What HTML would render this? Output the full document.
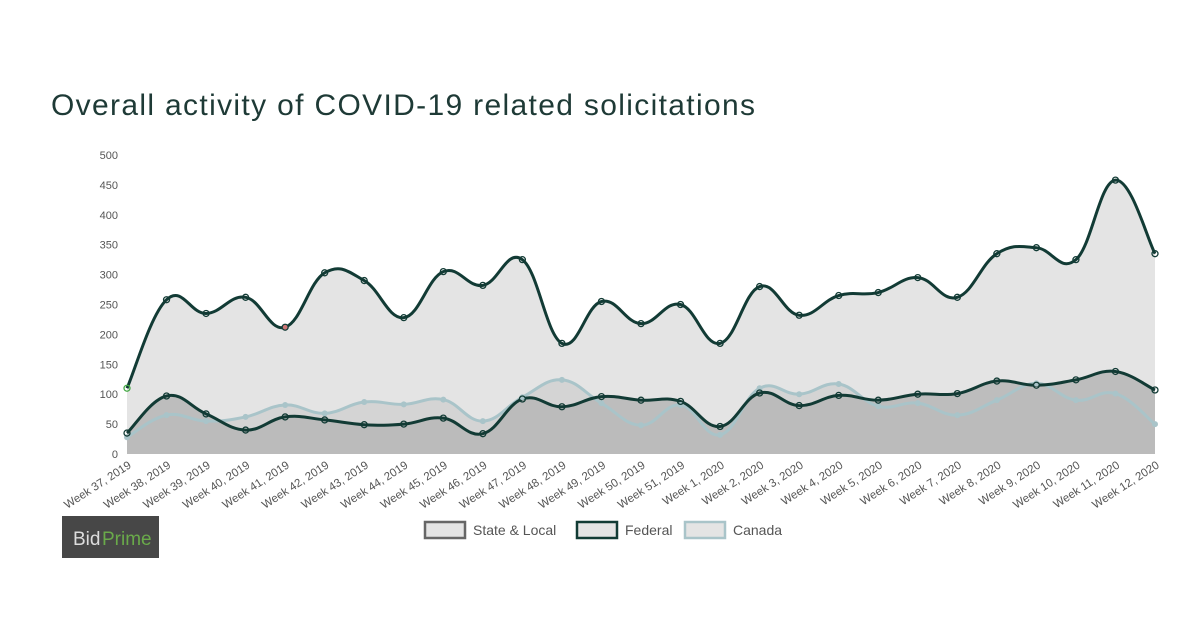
<!DOCTYPE html>
<html><head><meta charset="utf-8"><style>
body{margin:0;background:#fff;width:1186px;height:621px;overflow:hidden;font-family:"Liberation Sans",sans-serif}
</style></head><body>
<svg id="s" width="1186" height="621" xmlns="http://www.w3.org/2000/svg"></svg>
<script>
const NS="http://www.w3.org/2000/svg",s=document.getElementById('s');
function el(t,a,txt){const e=document.createElementNS(NS,t);for(const k in a)e.setAttribute(k,a[k]);if(txt!==undefined)e.textContent=txt;s.appendChild(e);return e;}
const top_=[110,258,235,262,212,303,290,228,305,282,325,185,255,218,250,185,280,232,265,270,295,262,335,345,325,458,335];
const fed=[35,97,67,40,62,57,49,50,60,34,92,79,96,90,88,46,102,81,98,90,100,101,122,115,124,138,107];
const can=[28,65,55,62,82,68,87,83,91,55,95,124,85,48,82,32,110,100,117,80,85,65,90,118,90,101,50];
const labels=[];for(let w=37;w<=51;w++)labels.push("Week "+w+", 2019");for(let w=1;w<=12;w++)labels.push("Week "+w+", 2020");
const x0=127,x1=1155,y0=454,ppu=299/500,dx=(x1-x0)/26;
const X=i=>x0+i*dx,Y=v=>y0-v*ppu;
function path(d){const p=d.map((v,i)=>[X(i),Y(v)]);let s="M"+p[0][0]+","+p[0][1];
for(let i=0;i<p.length-1;i++){const a=p[i-1]||p[i],b=p[i],c=p[i+1],e=p[i+2]||c;const t=0.2;
s+=` C${b[0]+(c[0]-a[0])*t},${b[1]+(c[1]-a[1])*t} ${c[0]-(e[0]-b[0])*t},${c[1]-(e[1]-b[1])*t} ${c[0]},${c[1]}`;}return s;}
const close=` L${x1},${y0} L${x0},${y0} Z`;
el('text',{x:51,y:115,'font-size':30,fill:'#1e3a36',textLength:704,lengthAdjust:'spacing'},"Overall activity of COVID-19 related solicitations");
for(let v=0;v<=500;v+=50)el('text',{x:118,y:Y(v)+4,'font-size':11,fill:'#555','text-anchor':'end'},v);
el('path',{d:path(top_)+close,fill:'#e4e4e4'});
el('path',{d:path(can)+close,fill:'#cfcfcf','fill-opacity':0.8});
el('path',{d:path(fed)+close,fill:'#b6b6b6','fill-opacity':0.85});
el('path',{d:path(can),fill:'none',stroke:'#a9c4c9','stroke-width':3});
el('path',{d:path(top_),fill:'none',stroke:'#123b35','stroke-width':3});
el('path',{d:path(fed),fill:'none',stroke:'#123b35','stroke-width':3});
can.forEach((v,i)=>el('circle',{cx:X(i),cy:Y(v),r:3,fill:'#a9c4c9'}));
fed.forEach((v,i)=>el('circle',{cx:X(i),cy:Y(v),r:3,fill:'none',stroke:'#123b35','stroke-width':1.3}));
top_.forEach((v,i)=>el('circle',{cx:X(i),cy:Y(v),r:3,fill:i==4?'#c77':'none',stroke:i==0?'#4a4':'#123b35','stroke-width':1.3}));
labels.forEach((l,i)=>el('text',{x:0,y:0,'font-size':11.5,fill:'#555','text-anchor':'end',transform:`translate(${X(i)+5},${y0+13}) rotate(-33)`},l));
el('rect',{x:62,y:516,width:97,height:42,fill:'#474747'});
el('text',{x:73,y:545,'font-size':19,fill:'#ddd'},"Bid");
el('text',{x:102,y:545,'font-size':19,fill:'#6aaa4a'},"Prime");
const lg=[[425,"State & Local",'#666'],[577,"Federal",'#123b35'],[685,"Canada",'#a9c4c9']];
lg.forEach(([x,t,c])=>{el('rect',{x:x,y:522,width:40,height:16,fill:'#e4e4e4',stroke:c,'stroke-width':2.5});el('text',{x:x+48,y:535,'font-size':14,fill:'#555'},t);});
</script>
</body></html>
